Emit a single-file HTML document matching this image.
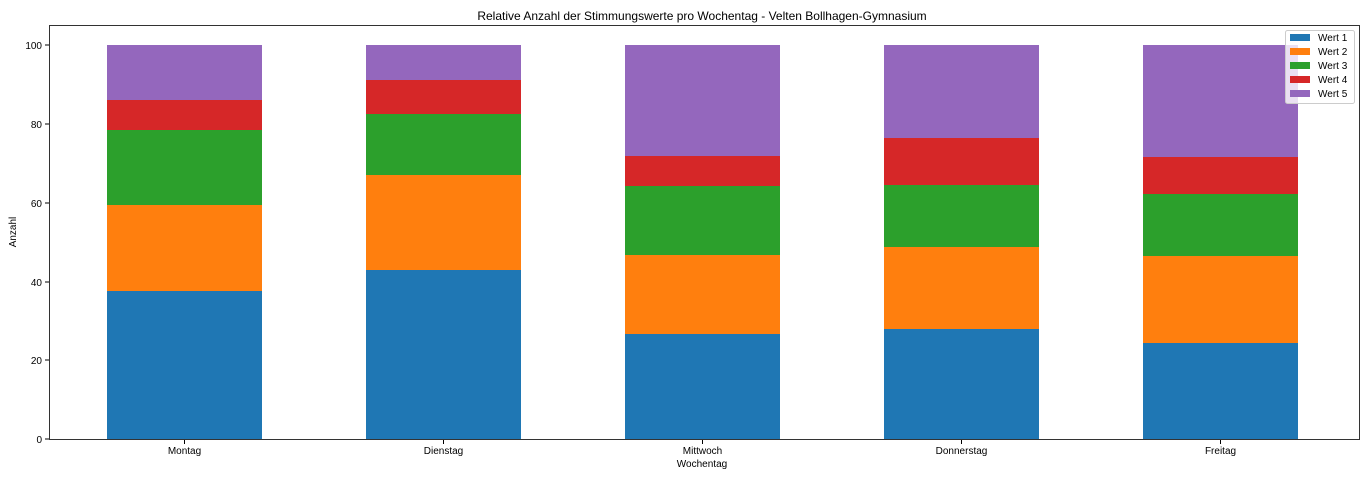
<!DOCTYPE html>
<html><head><meta charset="utf-8"><style>body{margin:0;background:#fff}svg{display:block}text{font-family:"Liberation Sans","DejaVu Sans",sans-serif;fill:#000}</style></head>
<body>
<svg width="1366" height="479" viewBox="0 0 1366 479">
<text x="702" y="20" font-size="12" text-anchor="middle">Relative Anzahl der Stimmungswerte pro Wochentag - Velten Bollhagen-Gymnasium</text>
<g id="bars">
<!-- Montag -->
<rect x="107" y="291" width="155" height="148" fill="#1f77b4"/>
<rect x="107" y="205" width="155" height="86" fill="#ff7f0e"/>
<rect x="107" y="130" width="155" height="75" fill="#2ca02c"/>
<rect x="107" y="100" width="155" height="30" fill="#d62728"/>
<rect x="107" y="45" width="155" height="55" fill="#9467bd"/>
<!-- Dienstag -->
<rect x="366" y="270" width="155" height="169" fill="#1f77b4"/>
<rect x="366" y="175" width="155" height="95" fill="#ff7f0e"/>
<rect x="366" y="114" width="155" height="61" fill="#2ca02c"/>
<rect x="366" y="80" width="155" height="34" fill="#d62728"/>
<rect x="366" y="45" width="155" height="35" fill="#9467bd"/>
<!-- Mittwoch -->
<rect x="625" y="334" width="155" height="105" fill="#1f77b4"/>
<rect x="625" y="255" width="155" height="79" fill="#ff7f0e"/>
<rect x="625" y="186" width="155" height="69" fill="#2ca02c"/>
<rect x="625" y="156" width="155" height="30" fill="#d62728"/>
<rect x="625" y="45" width="155" height="111" fill="#9467bd"/>
<!-- Donnerstag -->
<rect x="884" y="329" width="155" height="110" fill="#1f77b4"/>
<rect x="884" y="247" width="155" height="82" fill="#ff7f0e"/>
<rect x="884" y="185" width="155" height="62" fill="#2ca02c"/>
<rect x="884" y="138" width="155" height="47" fill="#d62728"/>
<rect x="884" y="45" width="155" height="93" fill="#9467bd"/>
<!-- Freitag -->
<rect x="1143" y="343" width="155" height="96" fill="#1f77b4"/>
<rect x="1143" y="256" width="155" height="87" fill="#ff7f0e"/>
<rect x="1143" y="194" width="155" height="62" fill="#2ca02c"/>
<rect x="1143" y="157" width="155" height="37" fill="#d62728"/>
<rect x="1143" y="45" width="155" height="112" fill="#9467bd"/>
</g>
<rect x="49.5" y="25.5" width="1310" height="414" fill="none" stroke="#000" stroke-width="0.8"/>
<g font-size="10" text-anchor="end">
<line x1="45" y1="439" x2="49" y2="439" stroke="#000"/><text x="42" y="443">0</text>
<line x1="45" y1="360" x2="49" y2="360" stroke="#000"/><text x="42" y="364">20</text>
<line x1="45" y1="282" x2="49" y2="282" stroke="#000"/><text x="42" y="286">40</text>
<line x1="45" y1="203" x2="49" y2="203" stroke="#000"/><text x="42" y="207">60</text>
<line x1="45" y1="124" x2="49" y2="124" stroke="#000"/><text x="42" y="128">80</text>
<line x1="45" y1="45" x2="49" y2="45" stroke="#000"/><text x="42" y="49">100</text>
</g>
<g font-size="10" text-anchor="middle">
<line x1="184.5" y1="440" x2="184.5" y2="444" stroke="#000"/><text x="184.5" y="454">Montag</text>
<line x1="443.5" y1="440" x2="443.5" y2="444" stroke="#000"/><text x="443.5" y="454">Dienstag</text>
<line x1="702.5" y1="440" x2="702.5" y2="444" stroke="#000"/><text x="702.5" y="454">Mittwoch</text>
<line x1="961.5" y1="440" x2="961.5" y2="444" stroke="#000"/><text x="961.5" y="454">Donnerstag</text>
<line x1="1220.5" y1="440" x2="1220.5" y2="444" stroke="#000"/><text x="1220.5" y="454">Freitag</text>
<text x="702" y="467">Wochentag</text>
<text x="16" y="232" transform="rotate(-90 16 232)">Anzahl</text>
</g>
<g font-size="10">
<rect x="1285.5" y="30.5" width="69" height="73" fill="#fff" fill-opacity="0.8" stroke="#ccc" rx="2"/>
<rect x="1290" y="34" width="20" height="7" fill="#1f77b4"/><text x="1318" y="41">Wert 1</text>
<rect x="1290" y="48" width="20" height="7" fill="#ff7f0e"/><text x="1318" y="55">Wert 2</text>
<rect x="1290" y="62" width="20" height="7" fill="#2ca02c"/><text x="1318" y="69">Wert 3</text>
<rect x="1290" y="76" width="20" height="7" fill="#d62728"/><text x="1318" y="83">Wert 4</text>
<rect x="1290" y="90" width="20" height="7" fill="#9467bd"/><text x="1318" y="97">Wert 5</text>
</g>
</svg>
</body></html>
